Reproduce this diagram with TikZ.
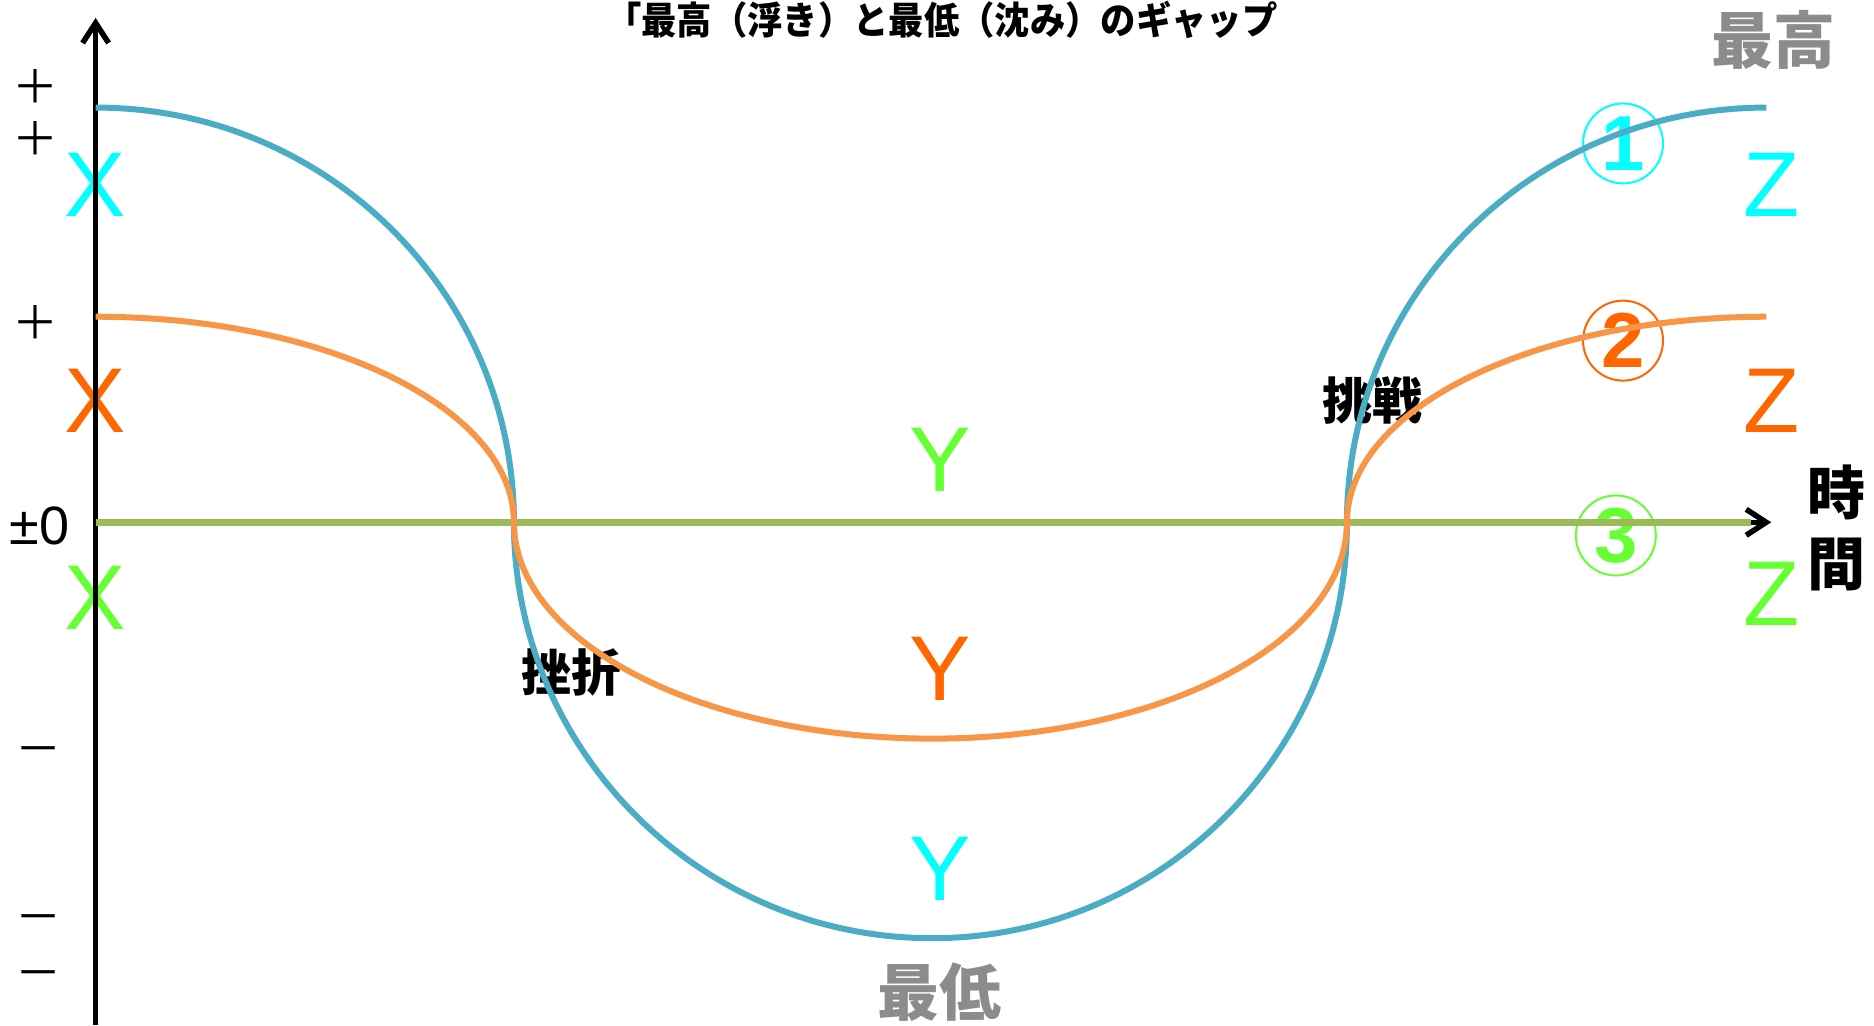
\documentclass[tikz,border=0pt]{standalone}
\usepackage{fontspec}
\setmainfont{Liberation Sans}
\newfontfamily\jp{Noto Sans CJK JP}
\usetikzlibrary{arrows.meta}
\definecolor{cblue}{HTML}{4BACC6}
\definecolor{corange}{HTML}{F79646}
\definecolor{cgreen}{HTML}{9BBB59}
\definecolor{lcyan}{HTML}{00FFFF}
\definecolor{lorange}{HTML}{FF6600}
\definecolor{lgreen}{HTML}{66FF33}
\definecolor{lgray}{HTML}{8C8C8C}
\begin{document}
\begin{tikzpicture}[x=1.1952pt,y=-1.1952pt,
  letter/.style={inner sep=0pt, font=\fontsize{92}{92}\selectfont},
  jplab/.style={inner sep=0pt, font=\jp\bfseries\fontsize{50}{50}\selectfont},
  timelab/.style={inner sep=0pt, font=\jp\bfseries\fontsize{58}{58}\selectfont},
  graylab/.style={inner sep=0pt, text=lgray, font=\jp\bfseries\fontsize{62}{62}\selectfont},
  ticklab/.style={inner sep=0pt, font=\jp\fontsize{46}{46}\selectfont},
  numcirc/.style={circle, line width=2pt, minimum size=80pt, inner sep=0pt, font=\bfseries\fontsize{78}{78}\selectfont},
  axisline/.style={line width=5.5pt, -{Straight Barb[length=20pt,width=26pt]}},
  curve/.style={line width=6pt},
  ]
\useasboundingbox (0,0) rectangle (1568,858);
\fill[white] (0,0) rectangle (1568,858);

% title
\node[anchor=north, inner sep=0pt, xscale=0.93, font=\jp\bfseries\fontsize{38}{38}\selectfont] (title) at (788,0.5) {「最高（浮き）と最低（沈み）のギャップ};

% gray labels
\node[graylab] (top) at (1484,33) {最高};
\node[graylab] (bottom) at (786,830) {最低};

% tick labels
\node[ticklab] (p1) at (30,72) {＋};
\node[ticklab] (p2) at (30,116) {＋};
\node[ticklab] (p3) at (30,270) {＋};
\node[inner sep=0pt, font=\fontsize{54}{54}\selectfont] (zero) at (33,440) {±0};
\node[ticklab] (m1) at (32,633) {－};
\node[ticklab] (m2) at (32,773) {－};
\node[ticklab] (m3) at (32,820) {－};

% letters
\node[letter, text=lcyan] (xc) at (80,155) {X};
\node[letter, text=lorange] (xo) at (80,335) {X};
\node[letter, text=lgreen] (xg) at (80,500) {X};
\node[letter, text=lgreen] (yg) at (787,385) {Y};
\node[letter, text=lorange] (yo) at (787,560) {Y};
\node[letter, text=lcyan] (yc) at (787,727) {Y};
\node[letter, text=lcyan] (zc) at (1482,155) {Z};
\node[letter, text=lorange] (zo) at (1482,335) {Z};
\node[letter, text=lgreen] (zg) at (1482,497) {Z};

% circled numbers
\node[numcirc, draw=lcyan, text=lcyan] (n1) at (1358,120) {1};
\node[numcirc, draw=lorange, text=lorange] (n2) at (1358,285) {2};
\node[numcirc, draw=lgreen, text=lgreen] (n3) at (1352,448) {3};

% Japanese labels
\node[jplab] (challenge) at (1148,335) {挑戦};
\node[jplab] (setback) at (478,563) {挫折};
\node[timelab] (t1) at (1537,412) {時};
\node[timelab] (t2) at (1537,472) {間};

% axes
\coordinate (o) at (80,437);
\coordinate (ybot) at (80,858);
\coordinate (ytop) at (80,15);
\coordinate (xend) at (1482,437);
\coordinate (gend) at (1465,437);
\draw[axisline] (ybot) -- (ytop);
\draw[axisline] (o) -- (xend);

% curves
\coordinate (b0) at (80,90);
\coordinate (c1) at (430,437);
\coordinate (b2) at (780,785);
\coordinate (c2) at (1127,437);
\coordinate (b4) at (1478,90);
\coordinate (o0) at (80,265);
\coordinate (o2) at (780,618);
\coordinate (o4) at (1478,265);

\draw[curve, cblue] (b0) .. controls (273,90) and (430,245) .. (c1)
  .. controls (430,629) and (587,785) .. (b2)
  .. controls (972,785) and (1127,629) .. (c2)
  .. controls (1127,245) and (1284,90) .. (b4);
\draw[curve, cgreen, line width=7pt] (o) -- (gend);
\draw[curve, corange] (o0) .. controls (273,265) and (430,342) .. (c1)
  .. controls (430,537) and (587,618) .. (o2)
  .. controls (972,618) and (1127,537) .. (c2)
  .. controls (1127,342) and (1284,265) .. (o4);
\end{tikzpicture}
\end{document}
